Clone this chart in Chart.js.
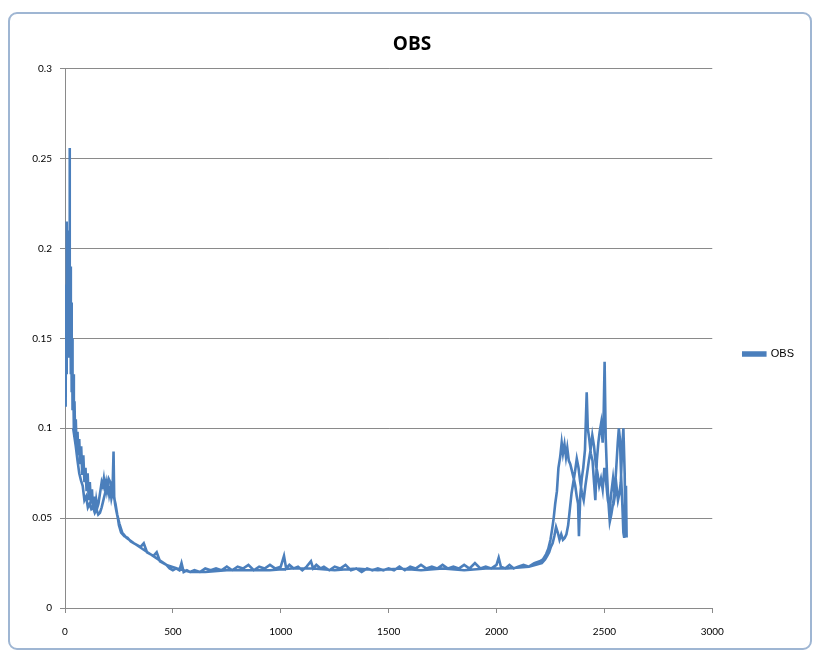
<!DOCTYPE html>
<html lang="en">
<head>
    <meta charset="UTF-8">
    <title>OBS</title>
    <script src="https://cdn.jsdelivr.net/npm/chart.js"></script>
    <style>
        body { margin: 0; background: #ffffff; }
        .frame {
            position: absolute; left: 8px; top: 12px; width: 800px; height: 634px;
            border: 2px solid #9fb6d3; border-radius: 9px;
        }
        .chart-box { position: absolute; left: 0; top: 0; width: 814px; height: 652px; }
    </style>
</head>
<body>
    <div class="frame"></div>
    <div class="chart-box"><canvas id="obsChart" width="814" height="652"></canvas></div>

    <script>
        // OBS series. The line goes out to ~2600 and comes back,
        // so it is kept in segments in drawing order.
        // early part, outward
        const earlyOutX = [
            3, 5, 7, 9, 11, 13, 15, 17, 19, 21,
            23, 25, 27, 29, 31, 33, 35, 38, 41, 44,
            47, 50, 54, 58, 62, 66, 70, 75, 80, 85,
            90, 95, 100, 105, 110, 115, 120, 125, 130, 135,
            140, 145, 150, 155, 160, 165, 170, 175, 180, 185,
            190, 195, 200, 205, 210, 215, 220, 225, 228, 232,
            238, 245, 250
        ];
        const earlyOutY = [
            0.112, 0.18, 0.13, 0.215, 0.15, 0.21, 0.14, 0.2, 0.17, 0.256,
            0.16, 0.19, 0.13, 0.17, 0.12, 0.15, 0.11, 0.13, 0.1, 0.115,
            0.095, 0.105, 0.088, 0.098, 0.085, 0.094, 0.08, 0.09, 0.074, 0.085,
            0.07, 0.078, 0.065, 0.075, 0.06, 0.07, 0.058, 0.066, 0.055, 0.062,
            0.054, 0.06, 0.056, 0.058, 0.062, 0.066, 0.07, 0.068, 0.072, 0.067,
            0.07, 0.065, 0.068, 0.063, 0.066, 0.061, 0.064, 0.087, 0.062, 0.058,
            0.054, 0.05, 0.046
        ];
        // descent and flat middle, outward
        const midOutX = [
            260, 275, 290, 305, 320, 335, 350, 365, 380, 395,
            410, 425, 440, 455, 470, 485, 500, 515, 530, 540,
            550, 565, 580, 600, 625, 650, 675, 700, 725, 750,
            775, 800, 825, 850, 875, 900, 925, 950, 975, 1000,
            1015, 1025, 1040, 1060, 1080, 1100, 1120, 1140, 1150, 1165,
            1185, 1200, 1225, 1250, 1275, 1300, 1325, 1350, 1375, 1400,
            1425, 1450, 1475, 1500, 1525, 1550, 1575, 1600, 1625, 1650,
            1675, 1700, 1725, 1750, 1775, 1800, 1825, 1850, 1875, 1900,
            1925, 1950, 1975, 2000, 2010, 2020, 2040, 2060, 2080, 2100,
            2125, 2150, 2175, 2200
        ];
        const midOutY = [
            0.042, 0.04, 0.039, 0.037, 0.036, 0.035, 0.034, 0.036, 0.031, 0.03,
            0.029, 0.031, 0.026, 0.025, 0.024, 0.022, 0.021, 0.022, 0.021, 0.025,
            0.02, 0.021, 0.02, 0.021, 0.02, 0.022, 0.021, 0.022, 0.021, 0.023,
            0.021, 0.023, 0.022, 0.024, 0.021, 0.023, 0.022, 0.024, 0.022, 0.023,
            0.029, 0.022, 0.024, 0.022, 0.023, 0.021, 0.023, 0.026, 0.022, 0.024,
            0.022, 0.023, 0.021, 0.023, 0.022, 0.024, 0.021, 0.022, 0.02, 0.022,
            0.021, 0.022, 0.021, 0.022, 0.021, 0.023, 0.021, 0.023, 0.022, 0.024,
            0.022, 0.023, 0.022, 0.024, 0.022, 0.023, 0.022, 0.024, 0.022, 0.025,
            0.022, 0.023, 0.022, 0.024, 0.028, 0.023, 0.022, 0.024, 0.022, 0.023,
            0.024, 0.023, 0.025, 0.026
        ];
        // late part, outward
        const lateOutX = [
            2215, 2230, 2240, 2250, 2258, 2265, 2272, 2280, 2287, 2295,
            2302, 2308, 2315, 2322, 2328, 2335, 2342, 2350, 2358, 2365,
            2372, 2378, 2382, 2388, 2395, 2402, 2410, 2418, 2423, 2430,
            2437, 2445, 2452, 2458, 2465, 2472, 2478, 2485, 2492, 2497,
            2501, 2506, 2512, 2518, 2525, 2532, 2540, 2548, 2555, 2562,
            2567, 2572, 2578, 2583, 2588, 2592, 2596, 2600, 2603
        ];
        const lateOutY = [
            0.027, 0.03, 0.033, 0.038, 0.044, 0.05, 0.058, 0.065, 0.078, 0.084,
            0.092, 0.086, 0.091, 0.084, 0.089, 0.082, 0.08, 0.076, 0.072, 0.068,
            0.062, 0.058, 0.04, 0.062, 0.072, 0.078, 0.088, 0.12, 0.1, 0.094,
            0.086, 0.082, 0.07, 0.06, 0.082, 0.092, 0.098, 0.103, 0.092, 0.11,
            0.137, 0.095, 0.075, 0.06, 0.048, 0.052, 0.058, 0.065, 0.078, 0.092,
            0.1, 0.094, 0.072, 0.058, 0.042, 0.039, 0.06, 0.068, 0.04
        ];
        // late part, coming back
        const lateBackX = [
            2598, 2594, 2588, 2582, 2576, 2570, 2563, 2556, 2548, 2540,
            2532, 2524, 2516, 2508, 2500, 2492, 2484, 2476, 2468, 2460,
            2452, 2444, 2436, 2428, 2420, 2412, 2404, 2396, 2388, 2380,
            2372, 2364, 2356, 2348, 2340, 2332, 2324, 2316, 2308, 2300,
            2292, 2284, 2276, 2268, 2260, 2252, 2244, 2235, 2225, 2210
        ];
        const lateBackY = [
            0.04, 0.075, 0.1, 0.088, 0.07, 0.064, 0.06, 0.068, 0.062, 0.072,
            0.064, 0.055, 0.06, 0.07, 0.078, 0.066, 0.072, 0.068, 0.075, 0.08,
            0.09, 0.096, 0.088, 0.082, 0.075, 0.068, 0.06, 0.064, 0.07, 0.078,
            0.083, 0.076, 0.07, 0.064, 0.055, 0.046, 0.041, 0.039, 0.038, 0.041,
            0.038, 0.042, 0.045, 0.04, 0.036, 0.034, 0.031, 0.029, 0.027, 0.025
        ];
        // middle and early part, coming back
        const backX = [
            2150, 2050, 1950, 1850, 1750, 1650, 1550, 1450, 1350, 1250,
            1150, 1050, 950, 850, 750, 650, 580, 520, 470, 420,
            370, 320, 285, 265, 252, 242, 234, 226, 218, 210,
            202, 194, 186, 178, 170, 162, 154, 146, 138, 130,
            122, 114, 106, 98, 90, 82, 74, 66, 58, 50,
            44, 38
        ];
        const backY = [
            0.023, 0.022, 0.022, 0.021, 0.022, 0.021, 0.022, 0.021, 0.022, 0.021,
            0.022, 0.022, 0.021, 0.021, 0.021, 0.02, 0.02, 0.022, 0.024, 0.028,
            0.032, 0.036, 0.039, 0.042, 0.047, 0.052, 0.058, 0.062, 0.066, 0.07,
            0.072, 0.068, 0.064, 0.06, 0.056, 0.053, 0.052, 0.055, 0.053, 0.056,
            0.055, 0.058, 0.056, 0.062, 0.06, 0.068, 0.071, 0.075, 0.082, 0.09,
            0.095, 0.1
        ];

        const xTickValues = [0, 500, 1000, 1500, 2000, 2500, 3000];
        const xTickLabels = ['0', '500', '1000', '1500', '2000', '2500', '3000'];
        const yTickValues = [0, 0.05, 0.1, 0.15, 0.2, 0.25, 0.3];
        const yTickLabels = ['0', '0.05', '0.1', '0.15', '0.2', '0.25', '0.3'];

        const obsX = [].concat(earlyOutX, midOutX, lateOutX, lateBackX, backX);
        const obsY = [].concat(earlyOutY, midOutY, lateOutY, lateBackY, backY);
        const points = obsX.map((x, i) => ({ x: x, y: obsY[i] }));

        const tickFont = { family: 'Liberation Sans Narrow, Lato, sans-serif', size: 10 };
        const gridGray = '#8a8a8a';
        const labelFor = (vals, labels, v) => labels[vals.findIndex(t => Math.abs(t - v) < 1e-9)];

        new Chart(document.getElementById('obsChart'), {
            type: 'line',
            data: {
                datasets: [{
                    label: 'OBS',
                    data: points,
                    borderColor: '#4b7fbc',
                    backgroundColor: '#4b7fbc',
                    borderWidth: 2.6,
                    pointRadius: 0,
                    tension: 0,
                    fill: false
                }]
            },
            options: {
                responsive: false,
                animation: false,
                layout: { padding: { left: 20, right: 10, top: 0, bottom: 0 } },
                plugins: {
                    title: {
                        display: true,
                        text: 'OBS',
                        color: '#000000',
                        font: { family: 'Open Sans, sans-serif', size: 19, weight: 'bold' },
                        padding: { top: 33, bottom: 13 }
                    },
                    legend: {
                        position: 'right',
                        title: { display: true, text: ' ', padding: 22, font: { size: 10 } },
                        labels: {
                            color: '#000000',
                            font: { family: 'Liberation Sans, sans-serif', size: 11 },
                            boxWidth: 22,
                            boxHeight: 3,
                            padding: 31
                        }
                    },
                    tooltip: { enabled: false }
                },
                scales: {
                    x: {
                        type: 'linear',
                        min: 0,
                        max: 3000,
                        afterBuildTicks: (s) => { s.ticks = xTickValues.map(v => ({ value: v })); },
                        afterFit: (s) => { s.height = 44; },
                        ticks: {
                            color: '#000000', font: tickFont, padding: 13, maxRotation: 0,
                            callback: (v) => labelFor(xTickValues, xTickLabels, v)
                        },
                        grid: { drawOnChartArea: false, drawTicks: true, tickLength: 5, color: gridGray },
                        border: { display: true, color: gridGray }
                    },
                    y: {
                        min: 0,
                        max: 0.3,
                        afterBuildTicks: (s) => { s.ticks = yTickValues.map(v => ({ value: v })); },
                        afterFit: (s) => { s.width = 45; },
                        ticks: {
                            color: '#000000', font: tickFont, padding: 8,
                            callback: (v) => labelFor(yTickValues, yTickLabels, v)
                        },
                        grid: { drawTicks: true, tickLength: 5, color: gridGray },
                        border: { display: true, color: gridGray }
                    }
                }
            }
        });
    </script>
</body>
</html>
